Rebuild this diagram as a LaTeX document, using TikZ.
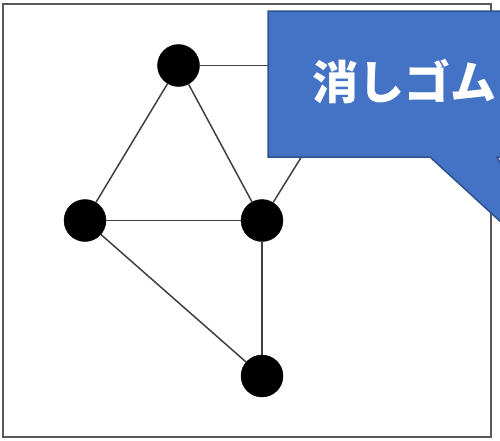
\documentclass[tikz,border=0pt]{standalone}
\usepackage{fontspec}
\newfontfamily\jpfont{Noto Sans CJK JP}
\begin{document}
\begin{tikzpicture}[x=1pt,y=-1pt,
  vert/.style={circle,fill=black,draw=black,minimum size=42pt,inner sep=0pt},
  edge/.style={draw=black!75,line width=1.5pt},
  frame/.style={draw=black!65,line width=2pt},
  callout/.style={fill=calloutblue,draw=calloutedge,line width=1.5pt,line join=miter}]
\definecolor{calloutblue}{HTML}{4472C4}
\definecolor{calloutedge}{HTML}{2F528F}
\useasboundingbox (0,0) rectangle (500,440);
\draw[frame] (3,4) rectangle (491,437);
\node[vert] (a) at (178.5,65.5) {};
\node[vert] (b) at (85,220.5) {};
\node[vert] (c) at (262,220.5) {};
\node[vert] (d) at (262,376) {};
\coordinate (h) at (358,65.5);
\draw[edge] (a) -- (b);
\draw[edge] (a) -- (c);
\draw[edge] (a) -- (h);
\draw[edge] (b) -- (c);
\draw[edge] (b) -- (d);
\draw[edge] (c) -- (d);
\draw[edge] (c) -- (h);
\path[callout] (268,11) -- (560,11) -- (560,157) -- (497,157) -- (575,290) -- (430,157) -- (268,157) -- cycle;
\node[anchor=west,text=white,inner sep=0pt,font=\jpfont\bfseries\fontsize{46}{50}\selectfont] (t) at (312,82) {消しゴム};
\end{tikzpicture}
\end{document}
